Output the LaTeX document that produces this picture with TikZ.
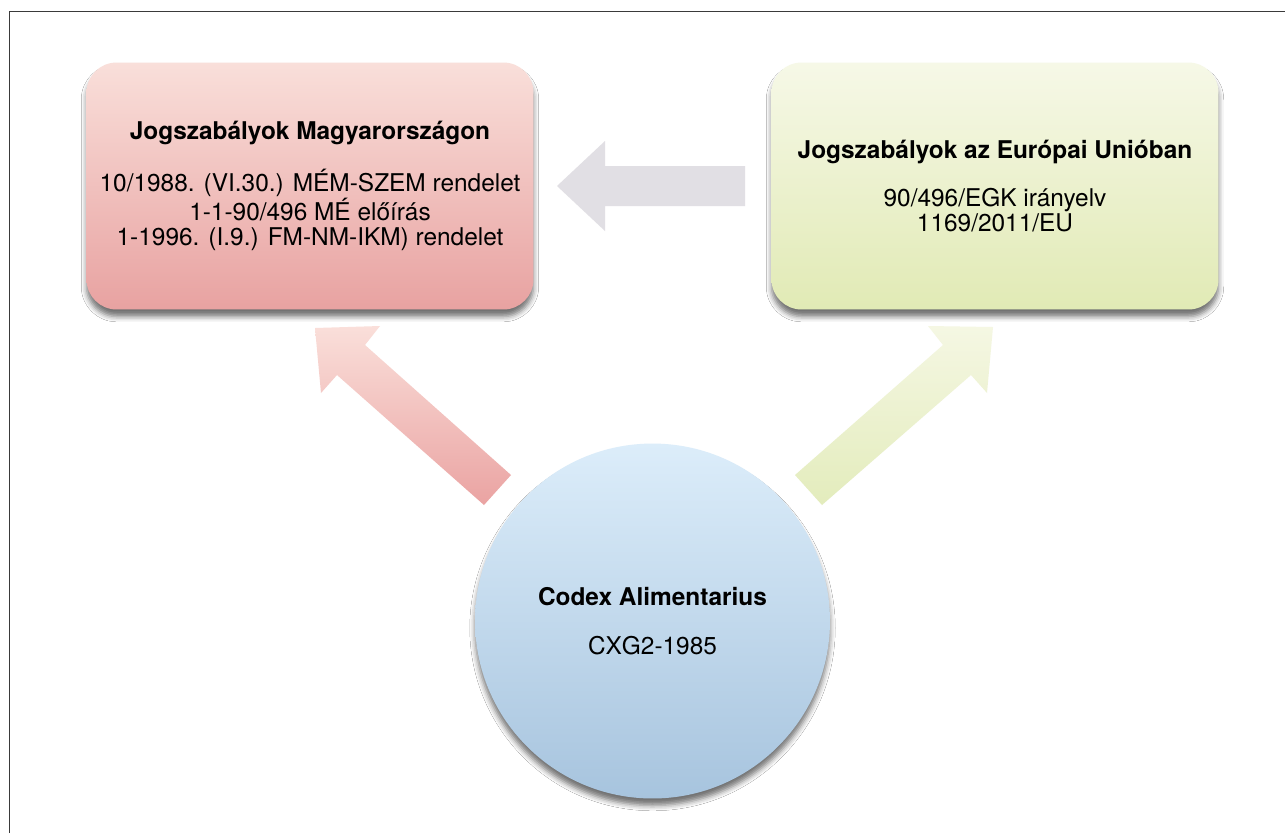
\documentclass[tikz,border=0pt]{standalone}
\usepackage{fontspec}
\setmainfont{TeX Gyre Heros}
\usetikzlibrary{shadows.blur}
\definecolor{redT}{HTML}{F9DFDA}
\definecolor{redB}{HTML}{E8A2A1}
\definecolor{grnT}{HTML}{F6F8E7}
\definecolor{grnB}{HTML}{E1EAB5}
\definecolor{bluT}{HTML}{DCEDFA}
\definecolor{bluB}{HTML}{A7C4DE}
\definecolor{grayA}{HTML}{E1DFE4}
\definecolor{rarT}{HTML}{FADFDA}
\definecolor{rarB}{HTML}{EAA3A2}
\definecolor{garT}{HTML}{F5F7E3}
\definecolor{garB}{HTML}{E3ECBC}
\definecolor{frame}{HTML}{3A3A3A}
\begin{document}
\begin{tikzpicture}[x=0.02cm,y=-0.02cm,
  shad/.style={blur shadow={shadow xshift=0pt, shadow yshift=-4pt, shadow blur radius=3pt, shadow opacity=55}},
  box/.style={shad, rounded corners=0.6cm, minimum width=8.94cm, minimum height=4.94cm,
    align=center, font=\fontsize{13.9}{14.3}\selectfont, text=black},
  circ/.style={shad, circle, minimum size=7.1cm, inner sep=0pt, align=center,
    font=\fontsize{13.9}{15}\selectfont, text=black}]
\useasboundingbox (0,0) rectangle (1285,833);
\fill[white] (0,0) rectangle (1285,833);
\draw[frame, line width=1.1pt] (9.5,833) -- (9.5,11.5) -- (1285,11.5);

% boxes
\node[box, top color=redT, bottom color=redB] (hu) at (310,186)
  {\textbf{Jogszabályok Magyarországon}\\[13pt]10/1988. (VI.30.) MÉM-SZEM rendelet\\1-1-90/496 MÉ előírás\\1-1996. (I.9.) FM-NM-IKM) rendelet};
\node[box, top color=grnT, bottom color=grnB] (eu) at (995,186)
  {\textbf{Jogszabályok az Európai Unióban}\\[13pt]90/496/EGK irányelv\\1169/2011/EU};
\node[circ, top color=bluT, bottom color=bluB] (cx) at (652.5,621)
  {\textbf{Codex Alimentarius}\\[13pt]CXG2-1985};

% block arrows
\fill[grayA] (557,186) -- (605,141) -- (605,166) -- (745,166) -- (745,206) -- (605,206) -- (605,231) -- cycle;
\shade[top color=rarT, bottom color=rarB] (315,328) -- (380,326) -- (365,345) -- (511,475) -- (484,505) -- (337,375) -- (321,393) -- cycle;
\shade[top color=garT, bottom color=garB] (993,327) -- (928,326) -- (943,345) -- (795,475) -- (822,505) -- (971,375) -- (987,393) -- cycle;
\end{tikzpicture}
\end{document}
